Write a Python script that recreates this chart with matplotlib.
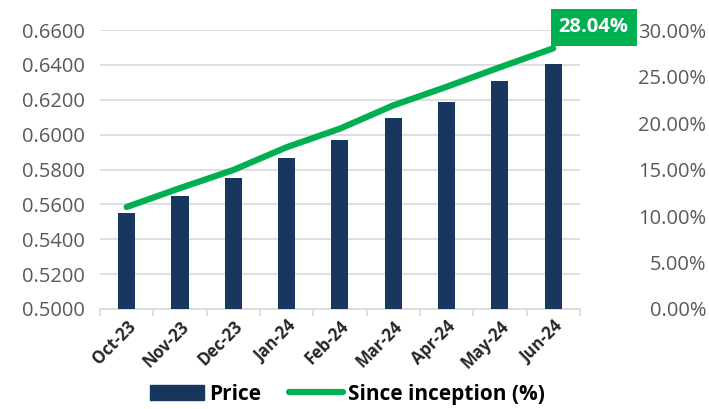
import numpy as np
import matplotlib.pyplot as plt
from matplotlib.patches import Patch
from matplotlib.lines import Line2D
from matplotlib.ticker import FuncFormatter

months = ["Oct-23", "Nov-23", "Dec-23", "Jan-24", "Feb-24", "Mar-24", "Apr-24", "May-24", "Jun-24"]
price = [0.5550, 0.5648, 0.5750, 0.5866, 0.5970, 0.6095, 0.6190, 0.6305, 0.6405]
since_inception = [10.97, 13.0, 14.95, 17.4, 19.4, 21.9, 23.9, 26.0, 28.04]

navy = "#17375e"
green = "#00b050"
grey = "#595959"

plt.rcParams["font.family"] = ["Open Sans", "DejaVu Sans"]

fig = plt.figure(figsize=(7.09, 4.09), dpi=100)
ax = fig.add_axes([0.141, 0.2445, 0.677, 0.682])
x = np.arange(len(months))

ax.bar(x, price, width=0.32, color=navy, zorder=3)
ax.set_ylim(0.5, 0.66)
ax.set_yticks(np.arange(0.5, 0.6601, 0.02))
ax.yaxis.set_major_formatter(FuncFormatter(lambda v, p: f"{v:.4f}"))
ax.set_xlim(-0.5, len(months) - 0.5)
ax.grid(axis="y", color="#d9d9d9", linewidth=1.2, zorder=0)
for s in ["top", "right", "left"]:
    ax.spines[s].set_visible(False)
ax.spines["bottom"].set_color("#d9d9d9")
ax.spines["bottom"].set_linewidth(1.2)
ax.tick_params(axis="y", length=0, labelsize=14.5, labelcolor=grey, pad=11)

# tick marks at category boundaries, labels centered on bars
ax.set_xticks(np.arange(-0.5, len(months), 1.0))
ax.set_xticklabels([])
ax.tick_params(axis="x", which="major", length=5, color="#d9d9d9", width=1.2)
ax.set_xticks(x, minor=True)
ax.set_xticklabels(months, minor=True, rotation=45, ha="right", rotation_mode="anchor",
                   fontsize=12, fontweight="bold", color="#262626")
ax.tick_params(axis="x", which="minor", length=0, pad=6)

ax2 = ax.twinx()
ax2.plot(x, since_inception, color=green, linewidth=4.5, solid_capstyle="round", zorder=4)
ax2.set_ylim(0, 30)
ax2.set_yticks(np.arange(0, 30.01, 5))
ax2.yaxis.set_major_formatter(FuncFormatter(lambda v, p: f"{v:.2f}%"))
for s in ["top", "right", "left", "bottom"]:
    ax2.spines[s].set_visible(False)
ax2.tick_params(axis="y", length=0, labelsize=14.5, labelcolor=grey, pad=91)
for t in ax2.get_yticklabels():
    t.set_ha("right")

ax2.annotate(f"{since_inception[-1]:.2f}%", (x[-1], since_inception[-1]),
             xytext=(29, 15), textcoords="offset points", ha="center", va="center",
             fontsize=14.5, fontweight="bold", color="white",
             bbox=dict(boxstyle="square,pad=0.4", fc=green, ec="none"), zorder=5,
             annotation_clip=False)

handles = [Patch(color=navy), Line2D([0], [0], color=green, linewidth=4.5, solid_capstyle="round")]
fig.legend(handles, ["Price", "Since inception (%)"], loc="lower center",
           bbox_to_anchor=(0.49, -0.035), ncol=2, frameon=False,
           prop={"weight": "bold", "size": 15}, handlelength=2.6, columnspacing=1.3,
           handletextpad=0.25)

fig.savefig("out.png", dpi=100)
